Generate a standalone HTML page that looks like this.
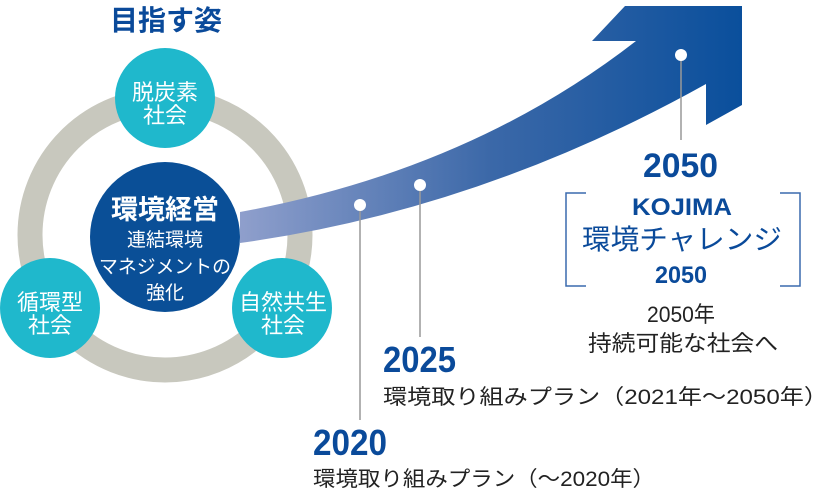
<!DOCTYPE html>
<html><head><meta charset="utf-8"><style>
html,body{margin:0;padding:0;background:#fff;}
svg{display:block;font-family:"Liberation Sans","Noto Sans CJK JP",sans-serif;}
</style></head><body>
<svg width="840" height="496" viewBox="0 0 840 496" xmlns="http://www.w3.org/2000/svg">
<defs>
<linearGradient id="g" x1="240" y1="0" x2="742" y2="0" gradientUnits="userSpaceOnUse">
<stop offset="0" stop-color="#8f9fcc"/>
<stop offset="0.5" stop-color="#3b68a8"/>
<stop offset="1" stop-color="#0a4f9c"/>
</linearGradient>
</defs>
<text x="166" y="30" text-anchor="middle" font-size="28" font-weight="bold" fill="#0a4a9a">目指す姿</text>
<circle cx="165" cy="235" r="135" fill="none" stroke="#c8c8be" stroke-width="25"/>
<path d="M240 212 Q470 170 636 41 L592 41 L625 6 L742 6 L742 105 L706 125 L706 84 Q480 210 240 243 Z" fill="url(#g)"/>
<circle cx="165" cy="237" r="75" fill="#0a4f97"/>
<circle cx="165" cy="98" r="50" fill="#1fb8cc"/>
<circle cx="50" cy="308" r="50" fill="#1fb8cc"/>
<circle cx="282" cy="308" r="50" fill="#1fb8cc"/>
<g fill="#fff" text-anchor="middle">
<text x="165" y="100" font-size="22">脱炭素</text>
<text x="165" y="123" font-size="22">社会</text>
<text x="50" y="310" font-size="22">循環型</text>
<text x="50" y="333" font-size="22">社会</text>
<text x="283" y="310" font-size="22">自然共生</text>
<text x="283" y="333" font-size="22">社会</text>
<text x="165" y="219" font-size="27" font-weight="bold">環境経営</text>
<text x="165" y="246" font-size="19">連結環境</text>
<text x="165" y="273" font-size="19" textLength="132" lengthAdjust="spacingAndGlyphs">マネジメントの</text>
<text x="165" y="299" font-size="19">強化</text>
</g>
<g stroke="#999" stroke-width="1.5">
<line x1="360" y1="205" x2="360" y2="420"/>
<line x1="420" y1="185" x2="420" y2="337"/>
<line x1="681" y1="55" x2="681" y2="140"/>
</g>
<g fill="#fff"><circle cx="360" cy="205" r="6"/><circle cx="420" cy="185" r="6"/><circle cx="681" cy="55" r="6"/></g>
<g fill="#0a4a9a" font-weight="bold">
<text x="383" y="372" font-size="36" textLength="73" lengthAdjust="spacingAndGlyphs">2025</text>
<text x="313" y="455" font-size="36" textLength="74" lengthAdjust="spacingAndGlyphs">2020</text>
<text x="643" y="177" font-size="34" textLength="75" lengthAdjust="spacingAndGlyphs">2050</text>
<text x="632" y="215" font-size="24" textLength="100" lengthAdjust="spacingAndGlyphs">KOJIMA</text>
<text x="655" y="283" font-size="24" textLength="52" lengthAdjust="spacingAndGlyphs">2050</text>
</g>
<text x="582" y="249" font-size="28" fill="#0a4a9a" textLength="200" lengthAdjust="spacingAndGlyphs">環境チャレンジ</text>
<g fill="none" stroke="#3a6aae" stroke-width="1.5">
<path d="M586 193 L566 193 L566 286 L586 286"/>
<path d="M780 193 L800 193 L800 286 L780 286"/>
</g>
<g fill="#222">
<text x="383" y="404" font-size="21" textLength="445" lengthAdjust="spacingAndGlyphs">環境取り組みプラン（2021年〜2050年）</text>
<text x="313" y="486" font-size="21" textLength="342" lengthAdjust="spacingAndGlyphs">環境取り組みプラン（〜2020年）</text>
<text x="647" y="322" font-size="22" textLength="68" lengthAdjust="spacingAndGlyphs">2050年</text>
<text x="588" y="351" font-size="22" textLength="190" lengthAdjust="spacingAndGlyphs">持続可能な社会へ</text>
</g>
</svg>
</body></html>
